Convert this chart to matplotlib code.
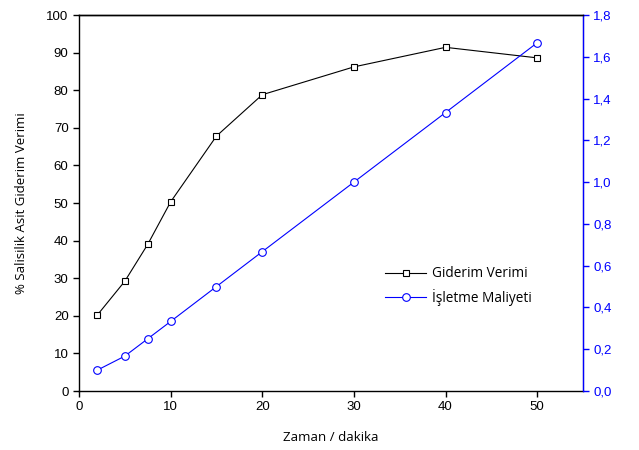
import matplotlib
matplotlib.use("Agg")
import matplotlib.pyplot as plt
from matplotlib.ticker import FuncFormatter

plt.rcParams['font.family'] = ['Liberation Sans', 'DejaVu Sans']
label_font = ['Open Sans', 'DejaVu Sans']

time_min = [2, 5, 7.5, 10, 15, 20, 30, 40, 50]
removal = [20.2, 29.2, 39.0, 50.3, 67.8, 78.8, 86.2, 91.4, 88.6]
cost = [0.10, 0.167, 0.25, 0.333, 0.50, 0.667, 1.0, 1.333, 1.667]

fig = plt.figure(figsize=(6.39, 4.5), dpi=100)
ax = fig.add_axes([79/639, 1-391/450, (583-79)/639, (391-15)/450])
ax2 = ax.twinx()

l1, = ax.plot(time_min, removal, color='black', lw=0.8, marker='s', ms=5,
              mfc='white', mec='black', mew=0.8, label='Giderim Verimi')
l2, = ax2.plot(time_min, cost, color='blue', lw=0.8, marker='o', ms=5.5,
               mfc='white', mec='blue', mew=0.8, label='İşletme Maliyeti')

ax.set_xlim(0, 55)
ax.set_ylim(0, 100)
ax2.set_ylim(0, 1.8)
ax.set_xticks([0, 10, 20, 30, 40, 50])
ax.set_yticks(range(0, 101, 10))
ax2.set_yticks([0, 0.2, 0.4, 0.6, 0.8, 1.0, 1.2, 1.4, 1.6, 1.8])
ax2.yaxis.set_major_formatter(FuncFormatter(lambda v, p: f"{v:.1f}".replace('.', ',')))

fs = 9.5
ax.tick_params(axis='both', direction='out', length=4, width=1, labelsize=fs, colors='black')
ax2.tick_params(axis='y', direction='out', length=4, width=1, labelsize=fs, colors='blue')
for s in ['left', 'bottom', 'top']:
    ax.spines[s].set_linewidth(1)
ax2.spines['right'].set_color('blue')
ax2.spines['right'].set_linewidth(1)
ax2.spines['left'].set_visible(False)
ax2.spines['top'].set_linewidth(1)
ax2.spines['bottom'].set_visible(False)

ax.set_xlabel('Zaman / dakika', fontsize=9.5, family=label_font, labelpad=13)
ax.set_ylabel('% Salisilik Asit Giderim Verimi', fontsize=9.5, family=label_font, labelpad=13)

fig.legend([l1, l2], ['Giderim Verimi', 'İşletme Maliyeti'], loc='upper left',
           bbox_to_anchor=(380/639, 1-261/450), frameon=False,
           prop={'family': label_font, 'size': 9.8},
           handlelength=3, handletextpad=0.4, labelspacing=0.55, borderaxespad=0)

fig.savefig('out.png', dpi=100)
